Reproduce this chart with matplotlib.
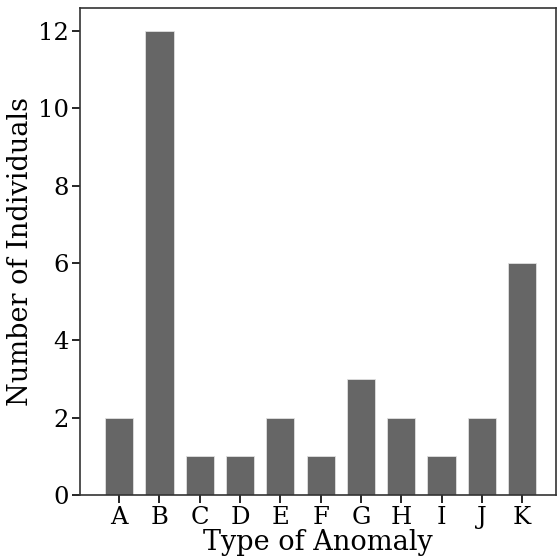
import matplotlib
matplotlib.use("Agg")
import matplotlib.pyplot as plt

categories = ["A", "B", "C", "D", "E", "F", "G", "H", "I", "J", "K"]
counts = [2, 12, 1, 1, 2, 1, 3, 2, 1, 2, 6]

plt.rcParams['font.family'] = ['DejaVu Serif']

fig = plt.figure(figsize=(5.59, 5.6), dpi=100)
ax = fig.add_axes([80 / 559, 65 / 560, 476 / 559, 487 / 560])

ax.bar(range(len(categories)), counts, width=0.7, color='#666666',
       edgecolor='#e0e0e0', linewidth=0.6)
ax.set_xticks(range(len(categories)))
ax.set_xticklabels(categories)
ax.set_xlim(-0.97, 10.84)
ax.set_ylim(0, 12.6)
ax.set_yticks([0, 2, 4, 6, 8, 10, 12])

ax.tick_params(labelsize=17.5, width=1.2, length=6, pad=2)
for s in ax.spines.values():
    s.set_linewidth(1.2)
    s.set_color('#333333')

ax.set_xlabel("Type of Anomaly", fontsize=19.5, labelpad=0)
ax.set_ylabel("Number of Individuals", fontsize=19.5, labelpad=3)

fig.savefig("out.png", dpi=100)
